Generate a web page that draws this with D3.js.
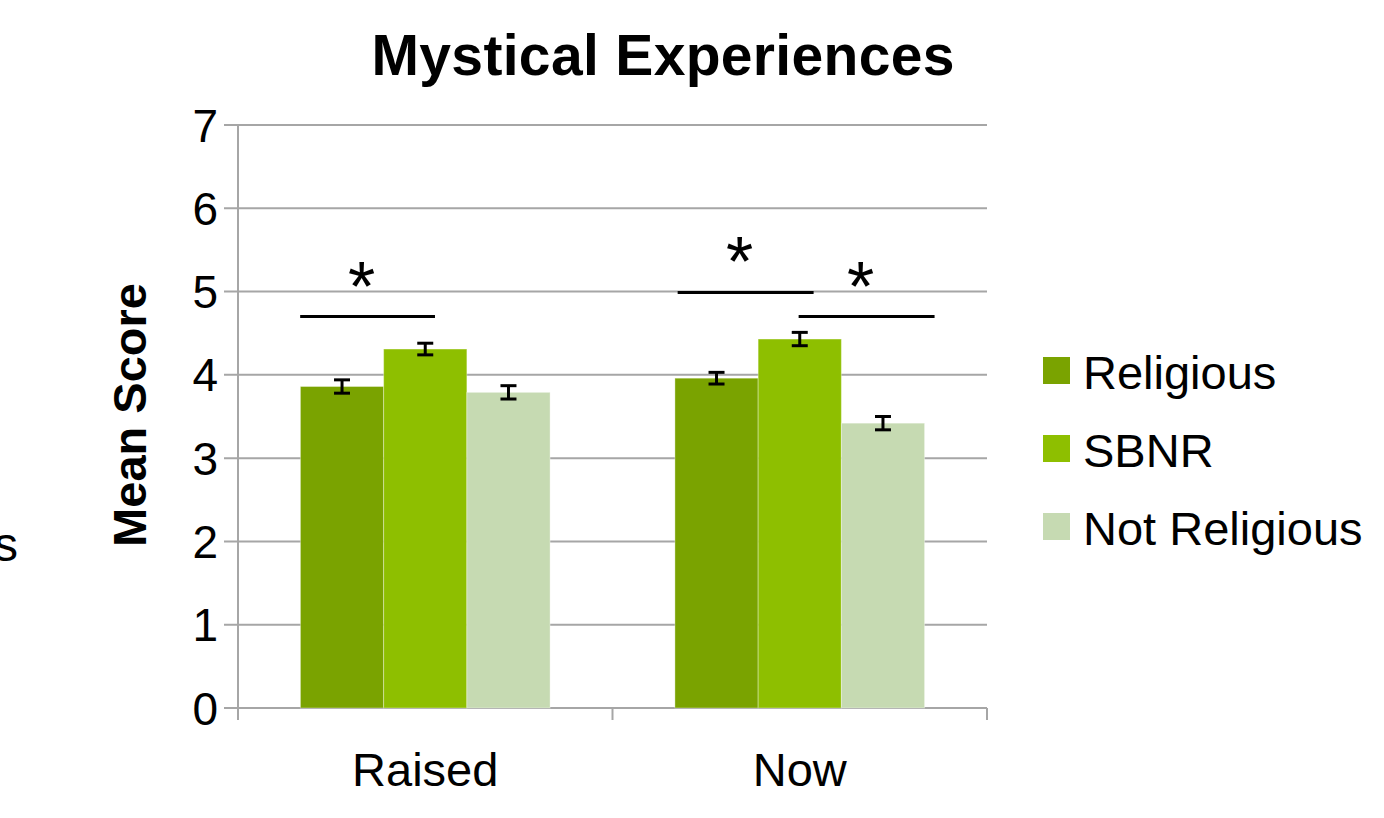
<!DOCTYPE html>
<html><head><meta charset="utf-8">
<script src="https://cdn.jsdelivr.net/npm/d3@7"></script>
<style>body{margin:0;background:#fff}svg{display:block}text{font-family:"Liberation Sans",Arial,sans-serif;fill:#000}</style>
</head><body><svg id="c" width="1384" height="818"></svg>
<script>
const categories = ["Raised", "Now"];
const series = ["Religious", "SBNR", "Not Religious"];
const colors = ["#7AA300", "#8EBF00", "#C6DAB2"];
const religious = [3.86, 3.96];
const sbnr = [4.31, 4.43];
const notReligious = [3.79, 3.42];
const errReligious = [0.08, 0.07];
const errSbnr = [0.07, 0.08];
const errNotReligious = [0.08, 0.08];
const yTicks = [0, 1, 2, 3, 4, 5, 6, 7];
// significance brackets: category, start/end as fraction of category band, y value
const sigCategory = ["Raised", "Now", "Now"];
const sigStart = [0.166, 0.174, 0.497];
const sigEnd = [0.526, 0.537, 0.86];
const sigY = [4.70, 4.99, 4.70];

const values = [religious, sbnr, notReligious];
const errs = [errReligious, errSbnr, errNotReligious];
const svg = d3.select("#c");
const x = d3.scaleBand().domain(categories).range([238, 987]).padding(0);
const xi = d3.scaleBand().domain(series).range([0, x.bandwidth()]).paddingInner(0).paddingOuter(0.75);
const y = d3.scaleLinear().domain([0, 7]).range([708, 125]);
const grid = "#A6A6A6";

// gridlines + tick marks
svg.append("g").selectAll("line").data(yTicks).join("line")
  .attr("x1", 224).attr("x2", 987).attr("y1", d => y(d)).attr("y2", d => y(d))
  .attr("stroke", grid).attr("stroke-width", 2);
svg.append("line").attr("x1", 238).attr("x2", 238).attr("y1", y(7)).attr("y2", 720)
  .attr("stroke", grid).attr("stroke-width", 2);
svg.append("g").selectAll("line").data([238, 612.5, 987]).join("line")
  .attr("x1", d => d).attr("x2", d => d).attr("y1", y(0)).attr("y2", 720)
  .attr("stroke", grid).attr("stroke-width", 2);
svg.append("g").selectAll("text").data(yTicks).join("text")
  .attr("x", 218).attr("y", d => y(d)).attr("dy", "0.36em").attr("text-anchor", "end")
  .attr("font-size", 46).text(d => d);
svg.append("g").selectAll("text").data(categories).join("text")
  .attr("x", d => x(d) + x.bandwidth() / 2).attr("y", 786).attr("text-anchor", "middle")
  .attr("font-size", 47).text(d => d);

// bars
series.forEach((s, si) => {
  const g = svg.append("g");
  g.selectAll("rect").data(categories).join("rect")
    .attr("x", c => x(c) + xi(s)).attr("width", xi.bandwidth())
    .attr("y", (c, ci) => y(values[si][ci])).attr("height", (c, ci) => y(0) - y(values[si][ci]))
    .attr("fill", colors[si]).attr("stroke", "rgba(255,255,255,0.35)").attr("stroke-width", 1);
});
// error bars
series.forEach((s, si) => {
  const g = svg.append("g").attr("stroke", "#000").attr("stroke-width", 3);
  categories.forEach((c, ci) => {
    const cx = x(c) + xi(s) + xi.bandwidth() / 2;
    const v = values[si][ci], e = errs[si][ci];
    g.append("line").attr("x1", cx).attr("x2", cx).attr("y1", y(v + e)).attr("y2", y(v - e));
    g.append("line").attr("x1", cx - 8).attr("x2", cx + 8).attr("y1", y(v + e)).attr("y2", y(v + e));
    g.append("line").attr("x1", cx - 8).attr("x2", cx + 8).attr("y1", y(v - e)).attr("y2", y(v - e));
  });
});
// significance lines
sigCategory.forEach((c, i) => {
  const x0 = x(c) + sigStart[i] * x.bandwidth(), x1 = x(c) + sigEnd[i] * x.bandwidth();
  svg.append("line").attr("x1", x0).attr("x2", x1).attr("y1", y(sigY[i])).attr("y2", y(sigY[i]))
    .attr("stroke", "#000").attr("stroke-width", 3);
  svg.append("text").attr("x", (x0 + x1) / 2 - 6).attr("y", y(sigY[i]) - 6)
    .attr("text-anchor", "middle").attr("font-size", 70).attr("font-family", "DejaVu Sans").text("*");
});

// title & axis title
svg.append("text").attr("x", 663).attr("y", 75).attr("text-anchor", "middle")
  .attr("font-size", 57).attr("font-weight", "bold").attr("textLength", 583).text("Mystical Experiences");
svg.append("text").attr("transform", "translate(146,415) rotate(-90)").attr("text-anchor", "middle")
  .attr("font-size", 47).attr("font-weight", "bold").text("Mean Score");
svg.append("text").attr("x", 18).attr("y", 561).attr("text-anchor", "end").attr("font-size", 48).text("s");

// legend
const lg = svg.append("g").selectAll("g").data(series).join("g")
  .attr("transform", (d, i) => `translate(1043,${357 + i * 78})`);
lg.append("rect").attr("width", 27).attr("height", 27).attr("fill", (d, i) => colors[i]);
lg.append("text").attr("x", 40).attr("y", 32).attr("font-size", 47).text(d => d);
</script></body></html>
